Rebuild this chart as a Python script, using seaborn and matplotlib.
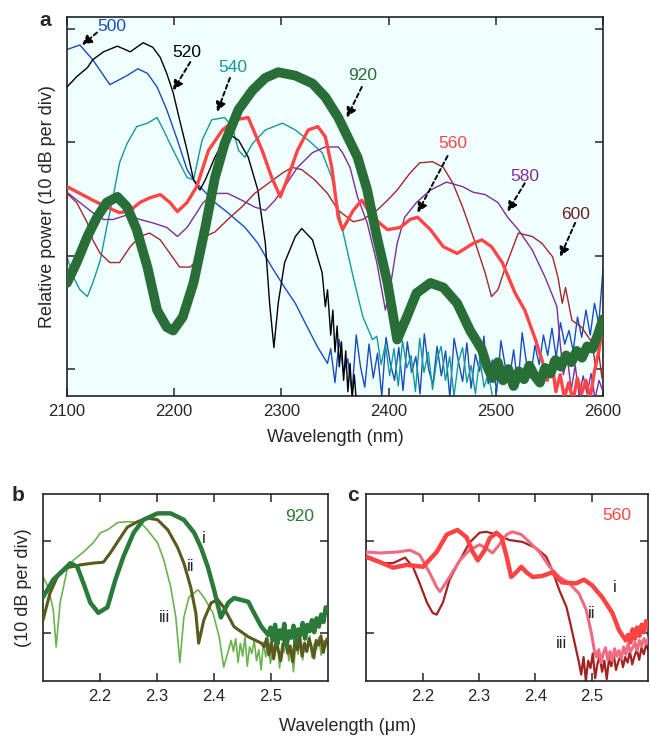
import numpy as np
import pandas as pd
import seaborn as sns
import matplotlib.pyplot as plt

# ---- panel a: spectra for pump wavelengths (nm), relative power in dB ----
wl_500 = [2100, 2112, 2124, 2140, 2156, 2166, 2175, 2184, 2193, 2203, 2212, 2218, 2227, 2238,
          2250, 2266, 2278, 2291, 2303, 2313, 2322, 2334, 2343]
db_500 = [28.2, 28.6, 27.3, 25.1, 25.9, 26.5, 26.1, 24.9, 22.9, 20.2, 17.6, 16.7, 15.8, 14.7,
          13.8, 12.5, 11.1, 9.0, 7.2, 5.8, 4.1, 1.9, 0.5]
noise_500 = [1.8, -1.2, 2.6, -0.4, 0.9, -2.1, 3.0, 0.2, -1.6, 2.2, -0.8, 1.4, -2.4, 2.8, 0.5, -1.0,
             1.9, -1.9, 2.4, -0.3, 1.1, -2.2, 3.1, 0.0, -1.4, 2.0, -0.6, 1.6, -2.5, 2.7, 0.7, -1.1,
             2.3, -1.7, 1.3, -0.2, 2.9, -1.3, 0.8, -2.0, 2.5, 0.3, -0.9, 1.7, -1.5, 3.2, 0.6, -0.7,
             2.1, 0.4, 3.0, 1.2, 3.6, 1.0, 4.1, 2.2, 3.4, 1.6, 4.6, 2.8, 5.2, 3.0, 5.8, 4.0, 8.8]

wl_520 = [2100, 2109, 2119, 2124, 2134, 2147, 2159, 2171, 2180, 2187, 2193, 2199, 2205, 2212,
          2218, 2224, 2229, 2238, 2250, 2260, 2269, 2278, 2285, 2289, 2293, 2297, 2303, 2313,
          2319, 2329, 2338, 2341, 2343, 2346, 2348, 2350, 2352, 2354, 2356, 2358, 2360, 2362,
          2364, 2366, 2368, 2370]
db_520 = [24.9, 25.8, 26.6, 27.3, 28.0, 28.5, 28.0, 28.8, 28.4, 27.5, 26.1, 24.4, 22.0, 19.3,
          16.7, 15.8, 16.7, 18.7, 20.8, 20.2, 18.7, 15.8, 11.1, 5.8, 1.9, 5.8, 9.4, 11.7,
          12.4, 11.4, 8.5, 5.5, 7.0, 3.0, 5.2, 1.5, 3.8, 0.2, 2.4, -1.0, 1.6, -2.0,
          0.5, -2.6, -0.5, -3.0]

wl_540 = [2100, 2106, 2112, 2119, 2124, 2131, 2137, 2143, 2149, 2156, 2165, 2175, 2184, 2190,
          2196, 2205, 2212, 2218, 2226, 2235, 2247, 2254, 2260, 2266, 2273, 2285, 2301, 2313,
          2325, 2338, 2347, 2357, 2367, 2376, 2385]
db_540 = [9.9, 8.1, 7.0, 6.4, 7.6, 9.6, 12.5, 15.2, 18.2, 19.9, 21.4, 21.7, 22.2, 21.1,
          19.9, 18.2, 16.9, 16.7, 20.2, 22.0, 22.2, 21.4, 19.3, 18.7, 19.9, 21.1, 21.7, 21.1,
          20.2, 19.1, 16.9, 12.3, 8.1, 4.6, 2.6]
noise_540 = [2.9, 0.4, 2.2, -0.6, 1.8, -1.5, 2.5, 0.1, 1.2, -2.0, 2.7, -0.3, 1.5, -1.8, 0.8, 2.0,
             -1.0, 1.1, -2.4, 0.6, 1.9, -1.2, 0.3, -2.2, 1.0, -1.6, -0.4, -2.5]

wl_560 = [2100, 2112, 2124, 2137, 2149, 2159, 2168, 2177, 2187, 2196, 2203, 2212, 2221, 2232,
          2245, 2257, 2269, 2282, 2291, 2299, 2306, 2315, 2325, 2334, 2341, 2347, 2353, 2357,
          2367, 2375, 2385, 2399, 2411, 2420, 2427, 2439, 2451, 2464, 2479, 2487, 2496, 2506,
          2518, 2527, 2537, 2544]
db_560 = [16.1, 15.5, 14.9, 14.3, 13.8, 14.0, 14.7, 15.1, 15.4, 14.7, 13.9, 14.7, 16.1, 19.3,
          21.1, 22.0, 22.2, 19.3, 16.9, 15.2, 16.9, 19.3, 21.1, 21.4, 20.5, 17.8, 13.4, 12.3,
          14.0, 14.9, 13.4, 12.3, 12.5, 13.2, 13.4, 12.3, 10.8, 10.2, 11.1, 11.4, 10.8, 9.4,
          6.7, 5.2, 2.6, 0.5]
noise_560 = [-1.0, 0.8, -2.0, -0.5, -2.5, -1.2, -2.8, -0.8, -2.2, -1.0, -2.6, -0.2, 1.5, 4.0]

wl_580 = [2100, 2112, 2124, 2134, 2143, 2156, 2168, 2180, 2193, 2203, 2212, 2221, 2227, 2238,
          2250, 2263, 2275, 2285, 2294, 2303, 2315, 2329, 2341, 2353, 2357, 2364, 2371, 2380,
          2389, 2397, 2403, 2408, 2415, 2426, 2439, 2454, 2469, 2479, 2490, 2502, 2511, 2521,
          2534, 2546, 2552, 2557, 2560]
db_580 = [15.6, 14.7, 13.8, 13.2, 13.2, 13.6, 13.2, 12.9, 12.5, 11.7, 12.5, 13.8, 14.7, 15.5,
          15.5, 14.9, 14.3, 14.0, 14.9, 16.1, 17.8, 19.1, 19.6, 19.6, 19.1, 17.8, 15.2, 12.9,
          9.4, 5.2, 8.1, 11.1, 13.4, 14.7, 15.8, 16.5, 16.1, 15.6, 15.4, 14.7, 13.4, 12.3,
          10.5, 8.1, 6.7, 5.5, 2.3]
noise_580 = [-0.5, 1.0, -1.8, 0.3, -2.4, -0.6, -2.2, -0.4, -2.6, -1.0, -2.0]

wl_600 = [2100, 2109, 2119, 2124, 2131, 2140, 2149, 2159, 2168, 2177, 2187, 2196, 2205, 2215,
          2224, 2229, 2238, 2250, 2263, 2275, 2288, 2301, 2310, 2319, 2331, 2343, 2353, 2367,
          2376, 2389, 2399, 2408, 2420, 2429, 2441, 2451, 2460, 2469, 2481, 2490, 2496, 2502,
          2509, 2515, 2521, 2534, 2543, 2553, 2558, 2562, 2565, 2571, 2580, 2590, 2593, 2596,
          2599, 2600]
db_600 = [15.5, 14.7, 12.9, 11.4, 10.2, 9.4, 9.4, 10.8, 11.7, 12.0, 11.4, 10.2, 9.0, 9.0,
          9.9, 11.7, 12.1, 13.2, 14.3, 15.5, 16.4, 17.3, 17.8, 17.6, 16.7, 15.5, 14.0, 13.0,
          13.2, 14.0, 14.9, 15.8, 17.3, 18.2, 18.3, 17.8, 16.4, 14.3, 11.1, 8.5, 6.4, 7.0,
          9.0, 10.5, 12.0, 11.7, 11.1, 9.9, 8.1, 5.8, 7.2, 4.3, 3.7, 2.3, 0.2, 1.5,
          -0.8, 0.5]

wl_920 = [2100, 2109, 2119, 2128, 2137, 2147, 2156, 2165, 2175, 2184, 2193, 2199, 2208, 2218,
          2229, 2238, 2247, 2260, 2273, 2285, 2297, 2313, 2329, 2341, 2353, 2371, 2380, 2389,
          2399, 2408, 2417, 2426, 2439, 2451, 2464, 2476, 2487]
db_920 = [7.6, 9.4, 11.7, 13.4, 14.7, 15.2, 14.3, 12.3, 9.0, 5.2, 3.7, 3.4, 4.6, 7.6,
          12.5, 16.9, 19.9, 22.9, 24.6, 25.7, 26.2, 25.9, 25.2, 24.0, 22.2, 18.7, 15.8, 11.7,
          7.6, 2.6, 4.6, 6.7, 7.6, 7.2, 5.8, 3.4, 1.7]
noise_920 = [0.2, -0.8, 0.6, -1.0, 0.0, -1.5, -0.2, -0.9, 0.3, -0.6, -1.2, 0.1, -0.4, 0.8,
             0.2, 1.2, 0.6, 1.6, 1.0, 2.0, 1.8, 3.0, 4.4]

# ---- panel b: 920 nm pump, three samples (um) ----
b_i_wl = [2.100, 2.118, 2.135, 2.148, 2.160, 2.171, 2.183, 2.197, 2.213, 2.227, 2.241, 2.259,
          2.276, 2.301, 2.324, 2.347, 2.365, 2.377, 2.389, 2.400, 2.412, 2.425, 2.435, 2.460,
          2.470, 2.483, 2.495]
b_i_db = [3.9, 5.8, 6.8, 7.6, 7.2, 5.4, 3.3, 2.2, 2.8, 5.8, 8.3, 10.9,
          12.3, 13.0, 13.0, 12.3, 10.9, 9.3, 7.2, 4.7, 1.7, 3.3, 3.8, 3.4,
          2.2, 0.7, -0.2]
b_i_noise = [0.6, -0.8, 0.9, -1.2, 0.3, -0.6, 1.0, -1.4, 0.2, -0.5, 0.8, -1.0, 0.4, -0.2,
             1.1, -0.6, 0.9, 0.2, 1.4, 0.1, 1.6, 0.7, 2.0, 1.2, 2.8, 2.4]

b_ii_wl = [2.100, 2.112, 2.125, 2.142, 2.165, 2.188, 2.206, 2.218, 2.236, 2.248, 2.266, 2.283,
           2.301, 2.319, 2.336, 2.347, 2.359, 2.368, 2.373, 2.382, 2.395, 2.407, 2.417, 2.435,
           2.460, 2.483]
b_ii_db = [1.4, 4.3, 6.1, 7.1, 7.4, 7.6, 7.7, 8.7, 10.4, 11.5, 12.1, 12.5,
           12.3, 11.2, 9.3, 7.6, 5.0, 2.2, -1.1, 1.4, 3.3, 3.6, 2.8, 0.7,
           -0.4, -1.1]
b_ii_noise = [-1.5, -0.6, -2.4, -1.0, -2.8, -0.8, -1.9, -3.0, -1.2, -0.5, -2.2, -1.4, -3.1, -0.9,
              -1.8, -0.4, -2.5, -1.1, -2.0, -0.6, -1.6, -2.7, -0.8, -1.3, -0.3, -2.1, -0.9, -0.5]

b_iii_wl = [2.100, 2.109, 2.118, 2.123, 2.130, 2.142, 2.153, 2.171, 2.188, 2.201, 2.213, 2.231,
            2.248, 2.271, 2.283, 2.301, 2.312, 2.324, 2.333, 2.340, 2.347, 2.356, 2.372, 2.382,
            2.398, 2.409, 2.417, 2.430]
b_iii_db = [6.1, 5.0, 2.5, -1.5, 3.3, 6.8, 7.9, 8.8, 9.8, 10.9, 11.2, 12.0,
            12.1, 12.0, 11.2, 9.8, 7.9, 5.0, 1.7, -3.2, 1.7, 3.9, 4.7, 3.9,
            2.2, -0.4, -3.7, -0.8]
b_iii_noise = [-2.0, -0.6, -3.2, -1.1, -2.5, -0.4, -3.6, -1.5, -2.2, -0.8, -3.0, -1.8, -4.0, -1.0,
               -2.6, -0.5, -3.3, -1.9, -2.4, -0.9, -3.8, -1.2, -2.1, -0.7, -3.0, -1.6, -4.2, -1.3,
               -2.3, -0.6, -2.9, -1.0, -2.0, -0.3, -2.6, -1.1, -1.8, -0.5, -2.4, -0.8, -1.5, -0.4]

# ---- panel c: 560 nm pump, three samples (um) ----
c_i_wl = [2.100, 2.125, 2.148, 2.172, 2.201, 2.225, 2.243, 2.262, 2.278, 2.289, 2.298, 2.310,
          2.319, 2.331, 2.340, 2.349, 2.357, 2.366, 2.375, 2.384, 2.395, 2.412, 2.430, 2.447,
          2.472, 2.486, 2.500, 2.518, 2.536, 2.548, 2.560]
c_i_db = [8.3, 7.7, 7.1, 7.4, 7.2, 8.8, 10.7, 11.2, 10.4, 8.8, 7.9, 9.0,
          10.3, 10.9, 10.4, 8.3, 6.1, 6.6, 7.2, 6.6, 6.1, 6.2, 6.6, 5.5,
          5.4, 5.8, 5.2, 3.9, 2.2, 0.3, -0.8]
c_i_noise = [-0.2, -1.0, 0.4, -0.6, 0.6, -0.3, 0.9, 0.1, 1.3, 0.6]

c_ii_wl = [2.100, 2.125, 2.155, 2.178, 2.195, 2.213, 2.225, 2.231, 2.248, 2.266, 2.283, 2.301,
           2.313, 2.324, 2.336, 2.349, 2.359, 2.375, 2.389, 2.407, 2.425, 2.442, 2.460, 2.477,
           2.490, 2.499, 2.504]
c_ii_db = [8.8, 8.7, 8.8, 9.0, 8.5, 6.5, 5.0, 4.5, 6.1, 7.9, 9.0, 9.6,
           9.2, 8.7, 9.6, 10.7, 11.0, 10.7, 9.9, 8.8, 7.2, 6.1, 5.4, 4.3,
           2.5, 0.0, -1.8]
c_ii_noise = [-2.6, -1.8, -3.2, -2.2, -1.6, -2.9, -2.0, -3.0, -1.7, -2.5, -1.9, -2.8, -1.5, -2.3,
              -1.2, -2.0, -1.6, -1.0, -1.9, -0.8, -1.4, -0.6, -1.2, -0.5]

c_iii_wl = [2.100, 2.125, 2.148, 2.169, 2.183, 2.195, 2.208, 2.218, 2.225, 2.236, 2.248, 2.266,
            2.283, 2.301, 2.313, 2.331, 2.354, 2.377, 2.402, 2.419, 2.430, 2.442, 2.455, 2.463,
            2.472, 2.477]
c_iii_db = [8.2, 7.6, 7.6, 8.2, 7.2, 5.4, 3.3, 2.2, 2.0, 3.3, 5.8, 7.9,
            9.8, 10.9, 11.0, 10.7, 10.1, 9.9, 9.2, 8.3, 6.8, 4.7, 2.8, 0.7,
            -1.8, -3.2]
c_iii_noise = [-4.5, -2.6, -5.2, -3.0, -3.8, -2.2, -4.9, -3.3, -2.5, -4.2, -3.0, -5.0, -2.8, -3.6,
               -2.3, -4.0, -3.1, -2.4, -3.7, -2.6, -3.2, -2.0, -3.4, -2.5, -1.8, -2.9, -1.6, -2.3,
               -1.2, -1.9]


def with_floor(wl, db, noise, start, stop):
    """Append hand-read noise-floor samples, evenly spread between start and stop."""
    x = list(wl) + list(np.linspace(start, stop, len(noise)))
    return pd.DataFrame({"wl": x, "db": list(db) + list(noise)})


def draw(ax, df, color, lw, z=2):
    sns.lineplot(data=df, x="wl", y="db", ax=ax, color=color, lw=lw, sort=False,
                 estimator=None, zorder=z, solid_capstyle="round", solid_joinstyle="round")


def style_axes(ax):
    ax.tick_params(direction="in", top=True, right=True, length=6, width=1.1,
                   labelsize=12, pad=6)
    for s in ax.spines.values():
        s.set_linewidth(1.2)
        s.set_color("#222222")
    ax.set_xlabel("")
    ax.set_ylabel("")


def arrow(ax, head, tail):
    ax.annotate("", xy=head, xytext=tail,
                arrowprops=dict(arrowstyle="-|>", color="k", lw=1.4, ls=(0, (2.2, 1.6)),
                                mutation_scale=14, shrinkA=0, shrinkB=0))


sns.set_style("ticks")
plt.rcParams["font.family"] = ["Liberation Sans", "DejaVu Sans"]

fig = plt.figure(figsize=(6.5, 7.37), dpi=100)

# ---- panel a ----
ax = fig.add_axes([0.1031, 0.4627, 0.8246, 0.5142])
ax.set_facecolor("#effefe")

c500, c520, c540 = "#1b4cbf", "#000000", "#15999c"
c560, c580, c600, c920 = "#ff4545", "#7e2d98", "#a32828", "#286e36"

draw(ax, with_floor(wl_500, db_500, noise_500, 2346, 2600), c500, 1.0, 2)
draw(ax, pd.DataFrame({"wl": wl_520, "db": db_520}), c520, 1.0, 3)
draw(ax, with_floor(wl_540, db_540, noise_540, 2389, 2497), c540, 1.0, 2.5)
draw(ax, pd.DataFrame({"wl": wl_600, "db": db_600}), c600, 1.0, 3)
draw(ax, with_floor(wl_580, db_580, noise_580, 2563, 2600), c580, 1.0, 3)
draw(ax, with_floor(wl_560, db_560, noise_560, 2548, 2600), c560, 2.4, 4)
draw(ax, with_floor(wl_920, db_920, noise_920, 2492, 2600), c920, 7.0, 5)

ax.set_xlim(2100, 2600)
ax.set_ylim(-2.38, 31.07)
ax.set_xticks([2100, 2200, 2300, 2400, 2500, 2600])
ax.set_yticks([0, 10, 20, 30])
ax.set_yticklabels([])
style_axes(ax)
ax.set_xlabel("Wavelength (nm)", fontsize=13, labelpad=7)
ax.set_ylabel("Relative power (10 dB per div)", fontsize=13, labelpad=2)

labels_a = [("500", c500, (2142, 30.2), (2114, 28.6), (2128, 29.7)),
            ("520", c520, (2212, 27.9), (2199, 24.6), (2215, 27.1)),
            ("540", c540, (2255, 26.6), (2240, 22.7), (2252, 25.7)),
            ("920", c920, (2376, 25.9), (2361, 22.2), (2375, 24.9)),
            ("560", c560, (2460, 19.9), (2427, 13.8), (2455, 18.8)),
            ("580", c580, (2527, 17.0), (2511, 13.9), (2527, 16.4)),
            ("600", "#6e1c1c", (2574, 13.6), (2560, 9.9), (2574, 12.9))]
for txt, col, pos, head, tail in labels_a:
    ax.text(pos[0], pos[1], txt, color=col, fontsize=12.5, ha="center", va="center", zorder=8)
    arrow(ax, head, tail)
fig.text(0.069, 0.972, "a", fontsize=15, fontweight="bold", ha="center", va="center")

# ---- panel b ----
axb = fig.add_axes([0.0662, 0.0760, 0.4385, 0.2537])
draw(axb, with_floor(b_iii_wl, b_iii_db, b_iii_noise, 2.434, 2.6), "#6cb24f", 1.2, 2)
draw(axb, with_floor(b_ii_wl, b_ii_db, b_ii_noise, 2.488, 2.6), "#5b5a1e", 2.2, 3)
draw(axb, with_floor(b_i_wl, b_i_db, b_i_noise, 2.499, 2.6), "#2a7a3a", 3.2, 4)
axb.text(2.55, 12.7, "920", color="#2a7a3a", fontsize=12.5, ha="center", va="center")
axb.text(2.382, 10.3, "i", fontsize=12, ha="center", va="center")
axb.text(2.359, 7.2, "ii", fontsize=12, ha="center", va="center")
axb.text(2.313, 1.7, "iii", fontsize=12, ha="center", va="center")
fig.text(0.028, 0.328, "b", fontsize=15, fontweight="bold", ha="center", va="center")

# ---- panel c ----
axc = fig.add_axes([0.5631, 0.0760, 0.4345, 0.2537])
draw(axc, with_floor(c_iii_wl, c_iii_db, c_iii_noise, 2.481, 2.6), "#a52222", 1.6, 2)
draw(axc, with_floor(c_ii_wl, c_ii_db, c_ii_noise, 2.508, 2.6), "#f06a82", 2.2, 3)
draw(axc, with_floor(c_i_wl, c_i_db, c_i_noise, 2.564, 2.6), "#ff4242", 3.2, 4)
axc.text(2.544, 12.8, "560", color="#ff4545", fontsize=12.5, ha="center", va="center")
axc.text(2.541, 4.9, "i", fontsize=12, ha="center", va="center")
axc.text(2.500, 2.1, "ii", fontsize=12, ha="center", va="center")
axc.text(2.446, -1.1, "iii", fontsize=12, ha="center", va="center")
fig.text(0.543, 0.328, "c", fontsize=15, fontweight="bold", ha="center", va="center")

for a in (axb, axc):
    a.set_xlim(2.1, 2.6)
    a.set_ylim(-5.2, 15.1)
    a.set_xticks([2.2, 2.3, 2.4, 2.5])
    a.set_yticks([0, 10])
    a.set_yticklabels([])
    style_axes(a)
axb.set_ylabel("(10 dB per div)", fontsize=13, labelpad=2)
fig.text(0.534, 0.014, "Wavelength (\u03bcm)", fontsize=13, ha="center", va="center")

fig.savefig("out.png", dpi=100)
